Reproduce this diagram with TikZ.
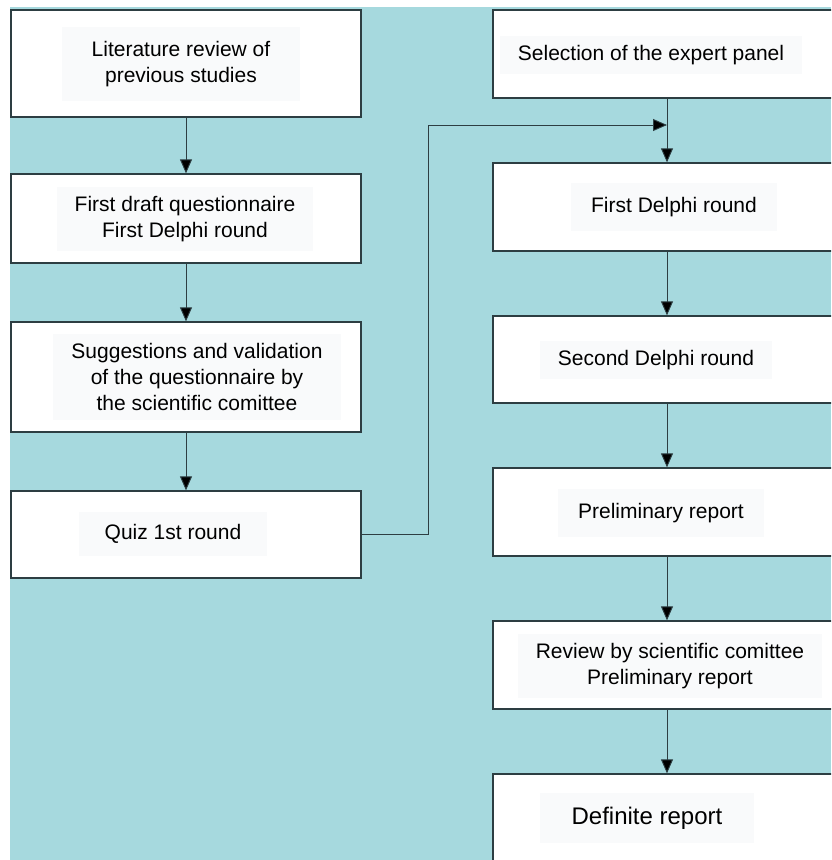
\documentclass[tikz,border=0pt]{standalone}
\usepackage{fontspec}
\setmainfont{Liberation Sans}
\usetikzlibrary{arrows.meta,positioning}
\definecolor{sea}{RGB}{166,217,222}
\definecolor{edge}{RGB}{45,62,66}
\definecolor{pane}{RGB}{249,250,251}

\begin{document}
\begin{tikzpicture}[x=1pt, y=-1pt,
        box/.style={draw=edge, line width=1.3pt, fill=white, minimum width=348pt, inner sep=0pt},
        txt/.style={fill=pane, align=center, inner xsep=18pt, inner ysep=9pt, font=\fontsize{21}{26}\selectfont},
        arr/.style={draw=edge, line width=0.9pt, -{Triangle[length=14pt,width=12pt,fill=black]}}]
        \useasboundingbox (0,0) rectangle (831,860);
        \clip (0,0) rectangle (831,860);
        % Background
        \fill[sea] (10,7) rectangle (831,860);
        % Left column
        \node[box, minimum width=350pt, minimum height=107pt] (lit) at (186,63.5) {};
        \node[box, minimum width=350pt, minimum height=89pt] (draft) at (186,218.5) {};
        \node[box, minimum width=350pt, minimum height=110pt] (valid) at (186,377) {};
        \node[box, minimum width=350pt, minimum height=87pt] (quiz) at (186,534.5) {};
        % Right column
        \node[box, minimum height=88pt] (panel) at (667,54) {};
        \node[box, minimum height=88pt] (round1) at (667,207) {};
        \node[box, minimum height=87pt] (round2) at (667,359.5) {};
        \node[box, minimum height=88pt] (prelim) at (667,512) {};
        \node[box, minimum height=88pt] (review) at (667,665) {};
        \node[box, minimum height=88pt] (final) at (667,818) {};
        % Texts
        \node[txt, inner xsep=30pt, inner ysep=14pt] (litT) at (181,64) {Literature review of\\previous studies};
        \node[txt] (draftT) at (185,219) {First draft questionnaire\\First Delphi round};
        \node[txt] (validT) at (197,377) {Suggestions and validation\\of the questionnaire by\\the scientific comittee};
        \node[txt, inner xsep=26pt, inner ysep=12pt] (quizT) at (173,534) {Quiz 1st round};
        \node[txt] (panelT) at (651,55) {Selection of the expert panel};
        \node[txt, inner xsep=20pt, inner ysep=14pt] (round1T) at (674,207) {First Delphi round};
        \node[txt] (round2T) at (656,360) {Second Delphi round};
        \node[txt, inner xsep=20pt, inner ysep=14pt] (prelimT) at (661,513) {Preliminary report};
        \node[txt] (reviewT) at (670,666) {Review by scientific comittee\\Preliminary report};
        \node[txt, font=\fontsize{24}{28}\selectfont, inner xsep=32pt, inner ysep=14pt] (finalT) at (647,818) {Definite report};
        % Arrows
        \draw[arr] (lit) -- (draft);
        \draw[arr] (draft) -- (valid);
        \draw[arr] (valid) -- (quiz);
        \draw[arr] (panel) -- (round1);
        \draw[arr] (round1) -- (round2);
        \draw[arr] (round2) -- (prelim);
        \draw[arr] (prelim) -- (review);
        \draw[arr] (review) -- (final);
        % Feedback from the quiz
        \coordinate (bend) at (428,125);
        \coordinate (join) at (667,125);
        \draw[arr] (quiz.east) -| (bend) -- (join);
\end{tikzpicture}
\end{document}
